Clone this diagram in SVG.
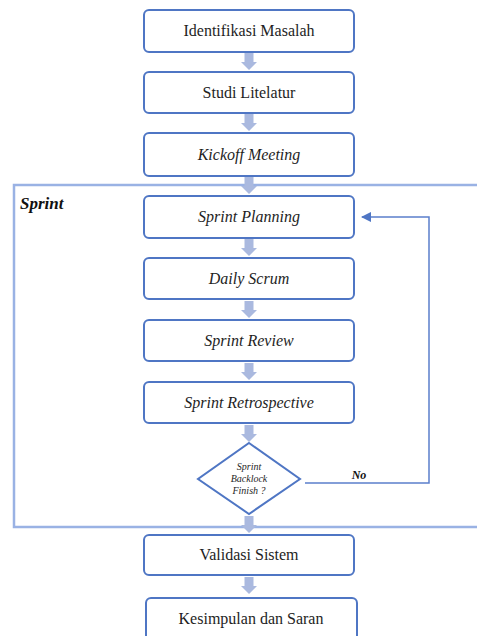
<svg xmlns="http://www.w3.org/2000/svg" width="477" height="636" viewBox="0 0 477 636">
<defs>
<style>
.box{fill:#ffffff;stroke:#4f76c4;stroke-width:2}
.t{font-family:"Liberation Serif","Times New Roman",serif;font-size:16px;fill:#1e1e1e;text-anchor:middle}
.i{font-style:italic}
.d{font-size:10px}
.frame{fill:none;stroke:#9ab2e4;stroke-width:2.5}
.blk{fill:#aab9df}
.fb{fill:none;stroke:#5b7fcc;stroke-width:1.5}
</style>
<marker id="ah" viewBox="0 0 10 10" refX="9" refY="5" markerWidth="7" markerHeight="7" orient="auto">
<path d="M0,0 L10,5 L0,10 z" fill="#4f76c4"/>
</marker>
<path id="blockarrow" d="M-4.5,0 H4.5 V9 H8 L0,17 L-8,9 H-4.5 Z"/>
</defs>
<rect width="477" height="636" fill="#ffffff"/>
<g id="sprint-frame">
<rect class="frame" x="14" y="185" width="470" height="342"/>
<text x="20" y="209" font-family="'Liberation Serif','Times New Roman',serif" font-size="17" font-weight="bold" font-style="italic" fill="#111">Sprint</text>
</g>
<g id="connectors">
<use href="#blockarrow" class="blk" x="249" y="53"/>
<use href="#blockarrow" class="blk" x="249" y="114"/>
<use href="#blockarrow" class="blk" x="249" y="177"/>
<use href="#blockarrow" class="blk" x="249" y="239"/>
<use href="#blockarrow" class="blk" x="249" y="301"/>
<use href="#blockarrow" class="blk" x="249" y="363"/>
<use href="#blockarrow" class="blk" x="249" y="425"/>
<use href="#blockarrow" class="blk" x="249" y="516"/>
<use href="#blockarrow" class="blk" x="249" y="577"/>
<polyline class="fb" points="305,483 429,483 429,217 362,217" marker-end="url(#ah)"/>
<text x="359" y="479" font-family="'Liberation Serif','Times New Roman',serif" font-size="12" font-weight="bold" font-style="italic" fill="#111" text-anchor="middle">No</text>
</g>
<g id="n1"><rect class="box" x="144" y="10" width="210" height="42" rx="5"/><text class="t" x="249" y="36">Identifikasi Masalah</text></g>
<g id="n2"><rect class="box" x="144" y="72" width="210" height="41" rx="5"/><text class="t" x="249" y="98">Studi Litelatur</text></g>
<g id="n3"><rect class="box" x="144" y="133" width="210" height="43" rx="5"/><text class="t i" x="249" y="160">Kickoff Meeting</text></g>
<g id="n4"><rect class="box" x="144" y="196" width="210" height="42" rx="5"/><text class="t i" x="249" y="222">Sprint Planning</text></g>
<g id="n5"><rect class="box" x="144" y="258" width="210" height="41" rx="5"/><text class="t i" x="249" y="284">Daily Scrum</text></g>
<g id="n6"><rect class="box" x="144" y="320" width="210" height="41" rx="5"/><text class="t i" x="249" y="346">Sprint Review</text></g>
<g id="n7"><rect class="box" x="144" y="382" width="210" height="41" rx="5"/><text class="t i" x="249" y="408">Sprint Retrospective</text></g>
<g id="n8"><polygon class="box" points="249,443 300,479 249,514 198,479"/>
<text class="t i d" x="249" y="470">Sprint</text>
<text class="t i d" x="249" y="482">Backlock</text>
<text class="t i d" x="249" y="494">Finish ?</text></g>
<g id="n9"><rect class="box" x="144" y="535" width="210" height="40" rx="5"/><text class="t" x="249" y="560">Validasi Sistem</text></g>
<g id="n10"><rect class="box" x="146" y="598" width="211" height="44" rx="5"/><text class="t" x="251" y="624">Kesimpulan dan Saran</text></g>
</svg>
